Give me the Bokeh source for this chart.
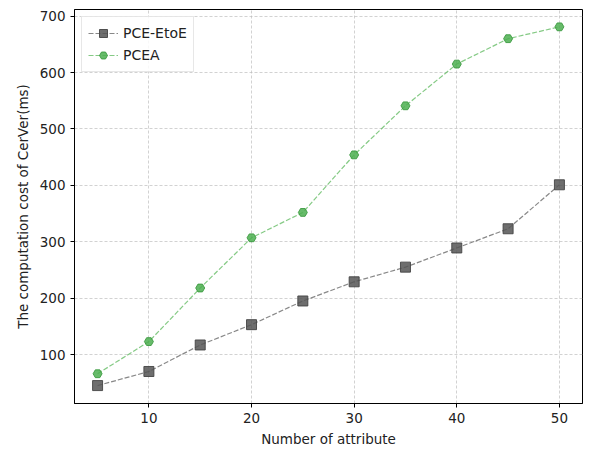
from bokeh.plotting import figure
from bokeh.models import Range1d, FixedTicker, Legend, LegendItem
from bokeh.embed import file_html
from bokeh.resources import INLINE

attributes = [5, 10, 15, 20, 25, 30, 35, 40, 45, 50]
pce_etoe = [45, 70, 117, 153, 195, 229, 255, 289, 323, 401]
pcea = [66, 123, 218, 307, 352, 454, 541, 615, 660, 681]
x_ticks = [10, 20, 30, 40, 50]
y_ticks = [100, 200, 300, 400, 500, 600, 700]

FONT = "DejaVu Sans"

p = figure(output_backend="svg", toolbar_location=None,
           frame_width=508, frame_height=394,
           min_border_left=74, min_border_top=9, min_border_right=10, min_border_bottom=38,
           x_range=Range1d(2.75, 52.25), y_range=Range1d(13.25, 711.75))

p.outline_line_color = "black"
p.outline_line_width = 1

for ax in (p.xaxis[0], p.yaxis[0]):
    ax.major_tick_in = 0
    ax.major_tick_out = 4
    ax.minor_tick_line_color = None
    ax.axis_line_color = "black"
    ax.major_label_text_font = FONT
    ax.major_label_text_font_size = "13.5px"
    ax.major_label_text_color = "#222222"
    ax.axis_label_text_font = FONT
    ax.axis_label_text_font_size = "13.5px"
    ax.axis_label_text_font_style = "normal"
    ax.axis_label_text_color = "#222222"

p.xaxis.ticker = FixedTicker(ticks=x_ticks)
p.yaxis.ticker = FixedTicker(ticks=y_ticks)
p.xaxis.axis_label = "Number of attribute"
p.yaxis.axis_label = "The computation cost of CerVer(ms)"
p.xaxis.axis_label_standoff = 5
p.yaxis.axis_label_standoff = 6

p.grid.grid_line_color = "#b8b8b8"
p.grid.grid_line_dash = "3 2"
p.grid.grid_line_width = 0.8
p.grid.grid_line_alpha = 0.8

l1 = p.line(attributes, pce_etoe, line_color="#555555", line_alpha=0.7, line_dash="5 2", line_width=1.2)
m1 = p.scatter(attributes, pce_etoe, marker="square", size=10, fill_color="#555555", fill_alpha=0.85,
               line_color="#444444", line_alpha=0.9)
l2 = p.line(attributes, pcea, line_color="#5cb85c", line_alpha=0.75, line_dash="5 2", line_width=1.2)
m2 = p.scatter(attributes, pcea, marker="hex", size=9, fill_color="#4caf50", fill_alpha=0.85,
               line_color="#3c9a40", line_alpha=0.9)

legend = Legend(items=[LegendItem(label="PCE-EtoE", renderers=[l1, m1]),
                       LegendItem(label="PCEA", renderers=[l2, m2])],
                location="top_left")
legend.label_text_font = FONT
legend.label_text_font_size = "14px"
legend.label_text_color = "#222222"
legend.border_line_color = "#d0d0d0"
legend.background_fill_alpha = 0.85
legend.glyph_width = 30
legend.spacing = 2
legend.padding = 6
legend.margin = 7
p.add_layout(legend)

open("out.html", "w").write(file_html(p, INLINE))
